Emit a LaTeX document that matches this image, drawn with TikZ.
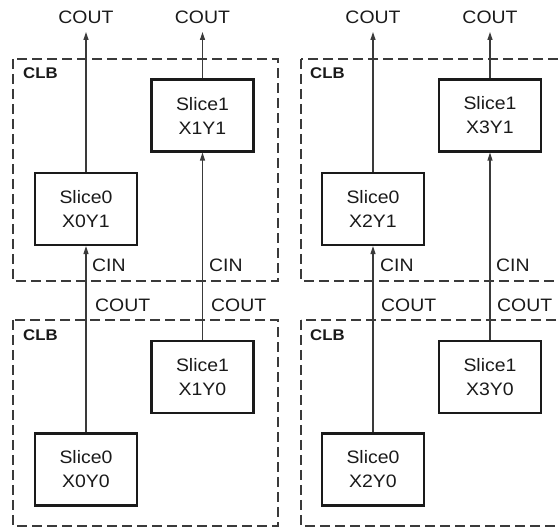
\documentclass[tikz,border=0pt]{standalone}
\usepackage{fontspec}
\setmainfont{Liberation Sans}[FakeStretch=1.08]
\usetikzlibrary{arrows.meta}
\definecolor{ink}{HTML}{1A1A1A}
\definecolor{wire}{HTML}{3A3A3A}
\begin{document}
\begin{tikzpicture}[x=1pt,y=-1pt,
 slicebox/.style={draw=ink, line width=2.2pt, minimum width=102pt, minimum height=72pt, inner sep=0pt, align=center, font=\fontsize{18}{24}\selectfont, text=ink},
 clbbox/.style={draw=wire, line width=2pt, dash pattern=on 10pt off 5pt},
 clblabel/.style={anchor=west, font=\bfseries\fontsize{15.5}{18}\selectfont, text=ink, inner sep=0pt},
 sig/.style={anchor=west, font=\fontsize{18}{20}\selectfont, text=ink, inner sep=0pt},
 topsig/.style={font=\fontsize{18}{20}\selectfont, text=ink, inner sep=0pt},
 wirearrow/.style={draw=wire, line width=1.2pt, -{Triangle[length=8pt,width=5pt]}},
]
\useasboundingbox (0,0) rectangle (558,529);
\clip (0,0) rectangle (558,529);

% CLB regions
\draw[clbbox] (13,59) rectangle (278,281);
\draw[clbbox] (13,320) rectangle (278,526);
\draw[clbbox] (301,59) rectangle (620,281);
\draw[clbbox] (301,320) rectangle (620,526);

\node[clblabel] (clbA) at (23,73) {CLB};
\node[clblabel] (clbB) at (23,335) {CLB};
\node[clblabel] (clbC) at (310,73) {CLB};
\node[clblabel] (clbD) at (310,335) {CLB};

% slices
\node[slicebox] (x0y1) at (86,209) {Slice0\\X0Y1};
\node[slicebox] (x1y1) at (202.5,115.5) {Slice1\\X1Y1};
\node[slicebox] (x0y0) at (86,469.5) {Slice0\\X0Y0};
\node[slicebox] (x1y0) at (202.5,377) {Slice1\\X1Y0};
\node[slicebox] (x2y1) at (373,209) {Slice0\\X2Y1};
\node[slicebox] (x3y1) at (490,115.5) {Slice1\\X3Y1};
\node[slicebox] (x2y0) at (373,469.5) {Slice0\\X2Y0};
\node[slicebox] (x3y0) at (490,377) {Slice1\\X3Y0};

% top outputs
\node[topsig] (co0) at (86,17) {COUT};
\node[topsig] (co1) at (202.5,17) {COUT};
\node[topsig] (co2) at (373,17) {COUT};
\node[topsig] (co3) at (490,17) {COUT};
\coordinate (t0) at (86,32);
\coordinate (t1) at (202.5,32);
\coordinate (t2) at (373,32);
\coordinate (t3) at (490,32);

\draw[wirearrow] (x0y1.north) -- (t0);
\draw[wirearrow] (x1y1.north) -- (t1);
\draw[wirearrow] (x2y1.north) -- (t2);
\draw[wirearrow] (x3y1.north) -- (t3);

% carry chains
\draw[wirearrow] (x0y0.north) -- (x0y1.south);
\draw[wirearrow] (x1y0.north) -- (x1y1.south);
\draw[wirearrow] (x2y0.north) -- (x2y1.south);
\draw[wirearrow] (x3y0.north) -- (x3y1.south);

% CIN / COUT labels
\node[sig] (cin0) at (92,265) {CIN};
\node[sig] (cin1) at (209,265) {CIN};
\node[sig] (cin2) at (380,265) {CIN};
\node[sig] (cin3) at (496,265) {CIN};
\node[sig] (cou0) at (95,305) {COUT};
\node[sig] (cou1) at (211,305) {COUT};
\node[sig] (cou2) at (381,305) {COUT};
\node[sig] (cou3) at (497,305) {COUT};
\end{tikzpicture}
\end{document}
